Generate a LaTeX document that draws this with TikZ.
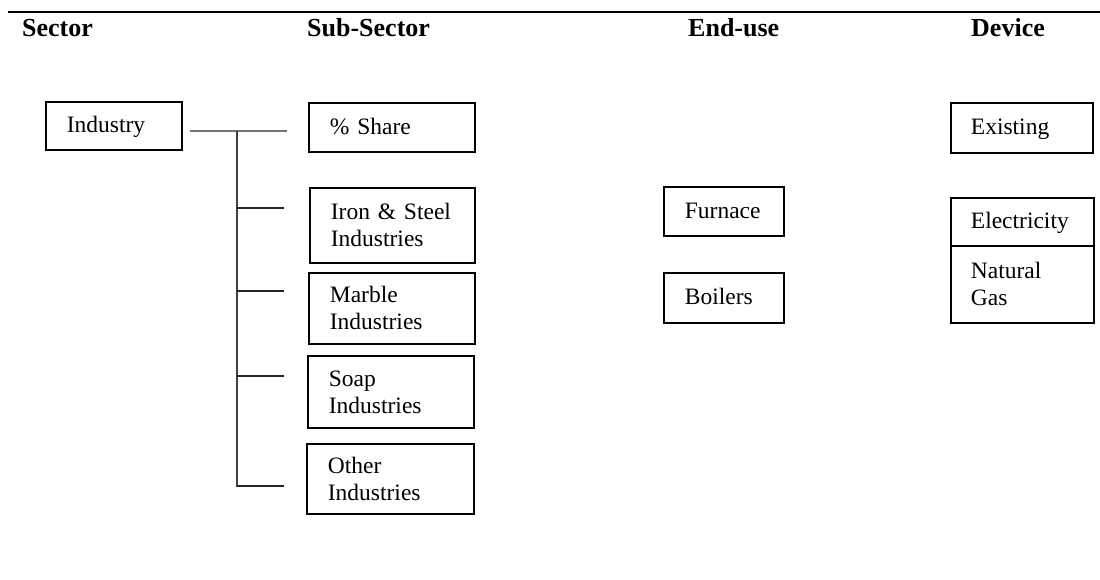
\documentclass[tikz,border=0pt]{standalone}
\usepackage{fontspec}
\setmainfont{Liberation Serif}
\usetikzlibrary{shadows}
\begin{document}
\begin{tikzpicture}[x=1pt,y=-1pt,
  box/.style={draw=black, line width=1.8pt, fill=white, anchor=north west,
    inner xsep=21pt, inner ysep=0pt, align=left,
    font=\fontsize{23.5}{27}\selectfont,
    drop shadow={shadow xshift=1.5pt, shadow yshift=-1.5pt, fill=black!40, opacity=1}},
  onebox/.style={box, text height=17pt, text depth=3pt},
  hdr/.style={anchor=base west, inner sep=0pt, font=\fontsize{26}{30}\selectfont\bfseries},
  conn/.style={line width=1.8pt, draw=black!85}]
\useasboundingbox (0,0) rectangle (1100,579);

% top rule
\coordinate (rl) at (8,12);
\coordinate (rr) at (1100,12);
\draw[line width=2pt] (rl) -- (rr);

% headers
\node[hdr] (hsector) at (22,36) {Sector};
\node[hdr] (hsub) at (307,36) {Sub-Sector};
\node[hdr] (hend) at (688,36) {End-use};
\node[hdr] (hdev) at (971,36) {Device};

% boxes
\node[onebox, minimum width=136pt, minimum height=48pt, text width=94pt] (ind) at (45,101) {Industry};
\node[onebox, minimum width=166pt, minimum height=49pt, text width=124pt] (share) at (308,102) {\% Share};
\node[box, minimum width=165pt, minimum height=75pt, text width=123pt] (iron) at (309,187) {Iron \& Steel\\Industries};
\node[box, minimum width=166pt, minimum height=71pt, text width=124pt] (marble) at (308,272) {Marble\\Industries};
\node[box, minimum width=166pt, minimum height=72pt, text width=124pt] (soap) at (307,355) {Soap\\Industries};
\node[box, minimum width=167pt, minimum height=70pt, text width=125pt] (other) at (306,443) {Other\\Industries};
\node[onebox, minimum width=120pt, minimum height=49pt, text width=78pt] (furn) at (663,186) {Furnace};
\node[onebox, minimum width=120pt, minimum height=50pt, text width=78pt] (boil) at (663,272) {Boilers};
\node[onebox, minimum width=142pt, minimum height=50pt, text width=102pt, inner xsep=20pt] (exist) at (950,102) {Existing};
\node[box, minimum width=143pt, minimum height=77pt, text width=103pt, inner xsep=20pt] (gas) at (950,245) {Natural\\Gas};
\node[onebox, minimum width=143pt, minimum height=48pt, text width=103pt, inner xsep=20pt] (elec) at (950,197) {Electricity};

% connectors
\coordinate (hs) at (190,131);
\coordinate (he) at (287,131);
\coordinate (jt) at (237,131);
\coordinate (vb) at (237,487);
\coordinate (e1) at (284,208);
\coordinate (e2) at (284,291);
\coordinate (e3) at (284,376);
\coordinate (e4) at (284,486);
\draw[line width=2.2pt, draw=black!55] (hs) -- (he);
\draw[conn, draw=black!75] (jt) -- (vb);
\draw[conn] (jt |- e1) -- (e1);
\draw[conn] (jt |- e2) -- (e2);
\draw[conn] (jt |- e3) -- (e3);
\draw[conn] (jt |- e4) -- (e4);
\end{tikzpicture}
\end{document}
